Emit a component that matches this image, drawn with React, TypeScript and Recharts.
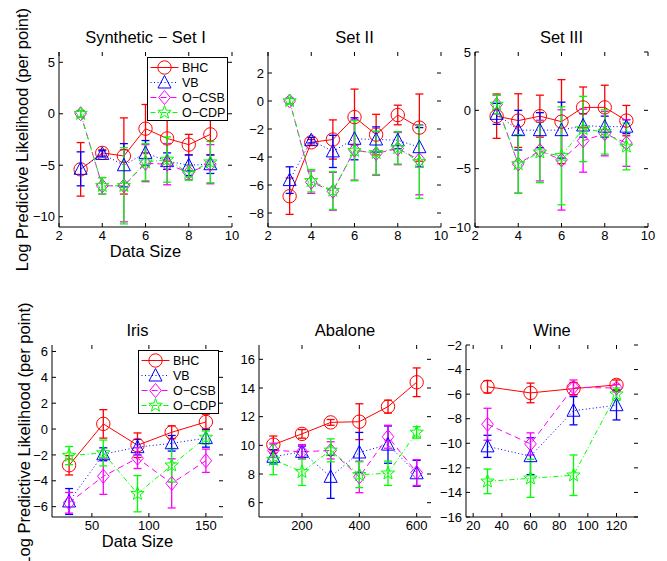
import React from 'react';
import { LineChart, Line, XAxis, YAxis, ErrorBar, Legend } from 'recharts';

const FONT = '"Liberation Sans", Arial, Helvetica, sans-serif';

// ---------- data ----------
const SYN_X = [3, 4, 5, 6, 7, 8, 9];
const SYN_X_TICKS = [2, 4, 6, 8, 10];

const SET1_BHC = [-5.4, -3.8, -4.1, -1.45, -2.4, -3.0, -2.0];
const SET1_BHC_ERR = [2.6, 0.3, 3.7, 2.35, 2.2, 1.0, 2.0];
const SET1_VB = [-5.35, -3.9, -5.0, -3.8, -4.6, -5.0, -4.9];
const SET1_VB_ERR = [1.65, 0.3, 2.1, 1.2, 0.8, 1.0, 0.9];
const SET1_CSB = [0, -7.0, -7.0, -4.8, -4.9, -5.7, -4.9];
const SET1_CSB_ERR = [0.3, 0.8, 3.5, 1.8, 2.0, 0.7, 1.9];
const SET1_CDP = [0, -7.0, -7.0, -4.7, -4.45, -5.75, -4.7];
const SET1_CDP_ERR = [0.3, 0.8, 3.7, 1.8, 2.2, 0.7, 2.0];
const SET1_Y_TICKS = [-10, -5, 0, 5];

const SET2_BHC = [-6.8, -2.95, -2.75, -1.15, -2.4, -1.0, -1.9];
const SET2_BHC_ERR = [1.3, 0.2, 1.4, 2.0, 1.45, 0.7, 2.4];
const SET2_VB = [-5.65, -2.8, -3.6, -2.7, -2.75, -2.8, -3.3];
const SET2_VB_ERR = [0.95, 0.2, 1.15, 1.5, 0.9, 0.6, 1.4];
const SET2_CSB = [0, -5.8, -6.45, -3.5, -3.75, -3.4, -4.2];
const SET2_CSB_ERR = [0.2, 0.8, 1.35, 2.15, 1.55, 1.15, 2.5];
const SET2_CDP = [0, -5.7, -6.4, -3.55, -3.7, -3.35, -4.35];
const SET2_CDP_ERR = [0.2, 0.8, 1.35, 2.15, 1.55, 1.15, 2.6];
const SET2_Y_TICKS = [-8, -6, -4, -2, 0, 2];

const SET3_BHC = [-0.5, -0.88, -0.5, -0.97, 0.25, 0.25, -0.88];
const SET3_BHC_ERR = [1.9, 2.3, 1.8, 3.6, 1.75, 1.9, 1.3];
const SET3_VB = [-0.3, -1.7, -1.7, -1.7, -1.3, -1.4, -1.4];
const SET3_VB_ERR = [0.9, 1.7, 1.5, 2.4, 1.0, 0.9, 0.6];
const SET3_CSB = [0.5, -4.6, -3.45, -4.25, -2.6, -2.0, -2.8];
const SET3_CSB_ERR = [0.8, 2.5, 2.6, 4.3, 2.7, 1.9, 2.0];
const SET3_CDP = [0.5, -4.6, -3.6, -3.9, -1.6, -1.85, -3.1];
const SET3_CDP_ERR = [0.8, 2.5, 2.6, 4.2, 2.8, 1.9, 2.0];
const SET3_Y_TICKS = [-10, -5, 0, 5];

const IRIS_X = [30, 60, 90, 120, 150];
const IRIS_X_TICKS = [50, 100, 150];
const IRIS_BHC = [-2.8, 0.4, -1.25, -0.25, 0.55];
const IRIS_BHC_ERR = [0.75, 1.1, 0.95, 0.5, 0.6];
const IRIS_VB = [-5.6, -1.95, -1.4, -1.1, -0.7];
const IRIS_VB_ERR = [1.0, 0.5, 0.6, 0.6, 0.7];
const IRIS_CSB = [-5.7, -3.65, -2.25, -4.2, -2.45];
const IRIS_CSB_ERR = [0.8, 1.4, 0.8, 1.9, 0.9];
const IRIS_CDP = [-2.05, -1.85, -5.0, -2.8, -0.65];
const IRIS_CDP_ERR = [0.7, 1.0, 1.4, 1.3, 0.5];
const IRIS_Y_TICKS = [-6, -4, -2, 0, 2, 4, 6];

const ABA_X = [100, 200, 300, 400, 500, 600];
const ABA_X_TICKS = [200, 400, 600];
const ABA_BHC = [10.05, 10.8, 11.6, 11.65, 12.7, 14.4];
const ABA_BHC_ERR = [0.6, 0.3, 0.2, 1.25, 0.45, 1.0];
const ABA_VB = [9.2, 9.55, 7.8, 9.5, 10.05, 8.05];
const ABA_VB_ERR = [0.5, 0.4, 1.5, 1.4, 1.3, 0.9];
const ABA_CSB = [9.65, 9.55, 9.65, 7.8, 10.6, 8.1];
const ABA_CSB_ERR = [0.5, 0.5, 0.6, 1.1, 0.8, 0.9];
const ABA_CDP = [9.0, 8.15, 9.65, 7.95, 8.05, 10.9];
const ABA_CDP_ERR = [1.05, 0.95, 0.8, 0.9, 0.85, 0.4];
const ABA_Y_TICKS = [6, 8, 10, 12, 14, 16];

const WINE_X = [30, 60, 90, 120];
const WINE_X_TICKS = [20, 40, 60, 80, 100, 120];
const WINE_BHC = [-5.4, -5.9, -5.55, -5.25];
const WINE_BHC_ERR = [0.5, 0.8, 0.5, 0.4];
const WINE_VB = [-10.25, -11.05, -7.35, -6.9];
const WINE_VB_ERR = [0.9, 1.5, 1.15, 1.2];
const WINE_CSB = [-8.45, -10.05, -5.45, -5.5];
const WINE_CSB_ERR = [1.3, 0.9, 0.6, 0.3];
const WINE_CDP = [-13.1, -12.85, -12.6, -6.0];
const WINE_CDP_ERR = [1.0, 1.55, 1.65, 0.5];
const WINE_Y_TICKS = [-16, -14, -12, -10, -8, -6, -4, -2];

const SERIES = [
  { key: 'bhc', name: 'BHC', color: '#ff0000', dash: undefined as string | undefined, marker: 'circle' },
  { key: 'vb', name: 'VB', color: '#0000ff', dash: '1 2.5', marker: 'triangle' },
  { key: 'csb', name: 'O\u2212CSB', color: '#ff00ff', dash: '6 4', marker: 'diamond' },
  { key: 'cdp', name: 'O\u2212CDP', color: '#00ff00', dash: '5 2.5 1 2.5', marker: 'star' },
];

function buildRows(x: number[], v: number[][], e: number[][]) {
  return x.map((xv, i) => ({
    x: xv,
    bhc: v[0][i], bhcErr: e[0][i],
    vb: v[1][i], vbErr: e[1][i],
    csb: v[2][i], csbErr: e[2][i],
    cdp: v[3][i], cdpErr: e[3][i],
  }));
}

const PANELS = [
  {
    title: 'Synthetic \u2212 Set I', left: 59, top: 52, w: 173, h: 175,
    xDomain: [2, 10], xTicks: SYN_X_TICKS, yDomain: [-11, 6], yTicks: SET1_Y_TICKS,
    rows: buildRows(SYN_X, [SET1_BHC, SET1_VB, SET1_CSB, SET1_CDP], [SET1_BHC_ERR, SET1_VB_ERR, SET1_CSB_ERR, SET1_CDP_ERR]),
    legend: true, xLabel: true, yLabel: true, yLabelX: 28, yLabelC: 139.5,
  },
  {
    title: 'Set II', left: 268, top: 52, w: 173, h: 175,
    xDomain: [2, 10], xTicks: SYN_X_TICKS, yDomain: [-9, 3.5], yTicks: SET2_Y_TICKS,
    rows: buildRows(SYN_X, [SET2_BHC, SET2_VB, SET2_CSB, SET2_CDP], [SET2_BHC_ERR, SET2_VB_ERR, SET2_CSB_ERR, SET2_CDP_ERR]),
  },
  {
    title: 'Set III', left: 475, top: 52, w: 173, h: 175,
    xDomain: [2, 10], xTicks: SYN_X_TICKS, yDomain: [-10, 5], yTicks: SET3_Y_TICKS,
    rows: buildRows(SYN_X, [SET3_BHC, SET3_VB, SET3_CSB, SET3_CDP], [SET3_BHC_ERR, SET3_VB_ERR, SET3_CSB_ERR, SET3_CDP_ERR]),
  },
  {
    title: 'Iris', left: 52, top: 345, w: 171, h: 172,
    xDomain: [15, 165], xTicks: IRIS_X_TICKS, yDomain: [-6.8, 6.5], yTicks: IRIS_Y_TICKS,
    rows: buildRows(IRIS_X, [IRIS_BHC, IRIS_VB, IRIS_CSB, IRIS_CDP], [IRIS_BHC_ERR, IRIS_VB_ERR, IRIS_CSB_ERR, IRIS_CDP_ERR]),
    legend: true, xLabel: true, yLabel: true, yLabelX: 30, yLabelC: 434,
  },
  {
    title: 'Abalone', left: 259, top: 345, w: 172, h: 172,
    xDomain: [50, 650], xTicks: ABA_X_TICKS, yDomain: [5, 17], yTicks: ABA_Y_TICKS,
    rows: buildRows(ABA_X, [ABA_BHC, ABA_VB, ABA_CSB, ABA_CDP], [ABA_BHC_ERR, ABA_VB_ERR, ABA_CSB_ERR, ABA_CDP_ERR]),
  },
  {
    title: 'Wine', left: 466, top: 345, w: 172, h: 172,
    xDomain: [15, 135], xTicks: WINE_X_TICKS, yDomain: [-16, -2], yTicks: WINE_Y_TICKS,
    rows: buildRows(WINE_X, [WINE_BHC, WINE_VB, WINE_CSB, WINE_CDP], [WINE_BHC_ERR, WINE_VB_ERR, WINE_CSB_ERR, WINE_CDP_ERR]),
  },
];

// ---------- drawing helpers ----------
function Marker({ shape, cx, cy, color }: { shape: string; cx: number; cy: number; color: string }) {
  if (cx == null || cy == null || isNaN(cx) || isNaN(cy)) return null;
  const common = { fill: 'none', stroke: color, strokeWidth: 1 };
  if (shape === 'circle') return <circle cx={cx} cy={cy} r={6.7} {...common} />;
  if (shape === 'triangle') {
    const d = `M${cx},${cy - 7} L${cx + 6.5},${cy + 5.5} L${cx - 6.5},${cy + 5.5} Z`;
    return <path d={d} {...common} />;
  }
  if (shape === 'diamond') {
    const d = `M${cx},${cy - 7} L${cx + 5.8},${cy} L${cx},${cy + 7} L${cx - 5.8},${cy} Z`;
    return <path d={d} {...common} />;
  }
  const pts: string[] = [];
  for (let i = 0; i < 10; i++) {
    const a = (-90 + i * 36) * Math.PI / 180;
    const r = i % 2 === 0 ? 7 : 2.9;
    pts.push(`${(cx + r * Math.cos(a)).toFixed(2)},${(cy + r * Math.sin(a)).toFixed(2)}`);
  }
  return <path d={`M${pts.join(' L')} Z`} {...common} />;
}

const fmt = (v: number) => String(v).replace('-', '\u2212');

function LegendBox() {
  return (
    <svg width={81} height={64} style={{ display: 'block' }}>
      <rect x={0.5} y={0.5} width={80} height={63} fill="#fff" stroke="#000" strokeWidth={1} />
      {SERIES.map((s, i) => {
        const y = 10.5 + 15 * i;
        return (
          <g key={s.key}>
            <line x1={3.5} x2={31.5} y1={y} y2={y} stroke={s.color} strokeWidth={1} strokeDasharray={s.dash} />
            <Marker shape={s.marker} cx={17.5} cy={y} color={s.color} />
            <text x={35} y={y} dy="0.36em" fontSize={12.5} fontFamily={FONT} fill="#000">{s.name}</text>
          </g>
        );
      })}
    </svg>
  );
}

const ML = 50;
const MT = 10;
const MR = 12;
const XH = 30;
const TICK = 4;

function Panel({ p }: { p: any }) {
  const width = ML + p.w + MR;
  const height = MT + p.h + XH;
  const plotTop = MT;
  const plotBottom = MT + p.h;
  const plotLeft = ML;
  const plotRight = ML + p.w;

  const xTick = (props: any) => {
    const { x, y, payload } = props;
    return (
      <g>
        <line x1={x} x2={x} y1={plotBottom} y2={plotBottom - TICK} stroke="#000" />
        <line x1={x} x2={x} y1={plotTop} y2={plotTop + TICK} stroke="#000" />
        <text x={x} y={y} dy="0.71em" textAnchor="middle" fontSize={13} fontFamily={FONT} fill="#000">
          {fmt(payload.value)}
        </text>
      </g>
    );
  };
  const yTick = (props: any) => {
    const { x, y, payload } = props;
    return (
      <g>
        <line x1={plotLeft} x2={plotLeft + TICK} y1={y} y2={y} stroke="#000" />
        <line x1={plotRight} x2={plotRight - TICK} y1={y} y2={y} stroke="#000" />
        <text x={x} y={y} dy="0.36em" textAnchor="end" fontSize={13} fontFamily={FONT} fill="#000">
          {fmt(payload.value)}
        </text>
      </g>
    );
  };

  return (
    <div style={{ position: 'absolute', left: p.left - ML, top: p.top - MT }}>
      <LineChart width={width} height={height} data={p.rows} margin={{ top: MT, right: MR, bottom: 0, left: 0 }}>
        <XAxis dataKey="x" type="number" domain={p.xDomain} ticks={p.xTicks} interval={0} allowDataOverflow
          height={XH} tickLine={false} tickSize={0} tickMargin={4} axisLine={{ stroke: '#000' }} tick={xTick} />
        <XAxis xAxisId="top" orientation="top" type="number" domain={p.xDomain} height={0} tick={false}
          tickLine={false} axisLine={{ stroke: '#000' }} />
        <YAxis type="number" domain={p.yDomain} ticks={p.yTicks} interval={0} allowDataOverflow width={ML}
          tickLine={false} tickSize={0} tickMargin={4} axisLine={{ stroke: '#000' }} tick={yTick} />
        <YAxis yAxisId="right" orientation="right" type="number" domain={p.yDomain} width={0} tick={false}
          tickLine={false} axisLine={{ stroke: '#000' }} />
        {SERIES.map((s) => (
          <Line key={s.key} type="linear" dataKey={s.key} name={s.name} stroke={s.color} strokeWidth={1}
            strokeDasharray={s.dash} isAnimationActive={false} activeDot={false}
            dot={(d: any) => <Marker key={`${s.key}-${d.index}`} shape={s.marker} cx={d.cx} cy={d.cy} color={s.color} />}>
            <ErrorBar dataKey={`${s.key}Err`} direction="y" width={4} stroke={s.color} strokeWidth={1.3}
              isAnimationActive={false} />
          </Line>
        ))}
        {p.legend && (
          <Legend layout="vertical" align="center" verticalAlign="middle" width={81} height={64}
            content={() => <LegendBox />}
            wrapperStyle={{ left: plotRight - 4 - 81, top: plotTop + 4.5, width: 81, height: 64 }} />
        )}
      </LineChart>
    </div>
  );
}

export default function App() {
  return (
    <div style={{ position: 'absolute', left: 0, top: 0, width: 667, height: 561, background: '#fff', overflow: 'hidden', fontFamily: FONT }}>
      {PANELS.map((p, i) => <Panel key={i} p={p} />)}
      <svg width={667} height={561} style={{ position: 'absolute', left: 0, top: 0, pointerEvents: 'none' }}>
        {PANELS.map((p, i) => (
          <text key={`t${i}`} x={p.left + p.w / 2} y={p.top - 9} textAnchor="middle" fontSize={16.5} fontFamily={FONT} fill="#000">
            {p.title}
          </text>
        ))}
        {PANELS.filter((p: any) => p.xLabel).map((p, i) => (
          <text key={`x${i}`} x={p.left + p.w / 2} y={p.top + p.h + 30} textAnchor="middle" fontSize={16.5} fontFamily={FONT} fill="#000">
            Data Size
          </text>
        ))}
        {PANELS.filter((p: any) => p.yLabel).map((p: any, i) => {
          const cy = p.yLabelC;
          const bx = p.yLabelX;
          return (
            <text key={`y${i}`} x={bx} y={cy} transform={`rotate(-90, ${bx}, ${cy})`} textAnchor="middle" fontSize={16.5} fontFamily={FONT} fill="#000">
              Log Predictive Likelihood (per point)
            </text>
          );
        })}
      </svg>
    </div>
  );
}
